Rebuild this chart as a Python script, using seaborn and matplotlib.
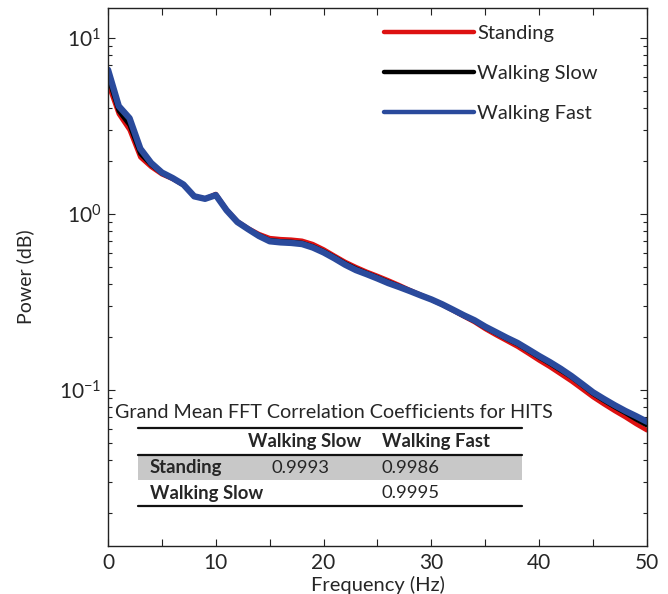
import matplotlib
matplotlib.use("Agg")
import matplotlib.pyplot as plt
import matplotlib.ticker as mticker
from matplotlib.lines import Line2D
from matplotlib.patches import Rectangle
import seaborn as sns
import pandas as pd

freq = list(range(0, 51))

standing = [5.5, 3.7, 3.0, 2.1, 1.85, 1.68, 1.58, 1.46, 1.26, 1.22, 1.30, 1.06, 0.91, 0.83, 0.77,
            0.73, 0.72, 0.715, 0.705, 0.675, 0.63, 0.58, 0.535, 0.50, 0.47, 0.445, 0.42, 0.395, 0.37,
            0.348, 0.327, 0.305, 0.283, 0.262, 0.243, 0.222, 0.205, 0.19, 0.176, 0.161, 0.147,
            0.135, 0.123, 0.112, 0.101, 0.091, 0.083, 0.076, 0.070, 0.064, 0.059]
walking_slow = [6.0, 3.85, 3.2, 2.2, 1.9, 1.7, 1.59, 1.46, 1.26, 1.22, 1.29, 1.05, 0.90, 0.82, 0.76,
                0.71, 0.70, 0.695, 0.685, 0.655, 0.615, 0.57, 0.525, 0.49, 0.462, 0.437, 0.412,
                0.39, 0.367, 0.346, 0.326, 0.305, 0.284, 0.264, 0.246, 0.226, 0.21, 0.195, 0.182,
                0.167, 0.153, 0.141, 0.129, 0.118, 0.106, 0.095, 0.087, 0.08, 0.074, 0.068, 0.063]
walking_fast = [6.6, 4.1, 3.5, 2.35, 1.95, 1.72, 1.6, 1.47, 1.26, 1.22, 1.28, 1.05, 0.90, 0.82, 0.75,
                0.70, 0.69, 0.685, 0.675, 0.645, 0.605, 0.56, 0.515, 0.48, 0.455, 0.43, 0.405,
                0.385, 0.365, 0.345, 0.327, 0.307, 0.286, 0.266, 0.249, 0.229, 0.213, 0.198, 0.185,
                0.17, 0.156, 0.144, 0.132, 0.12, 0.108, 0.097, 0.089, 0.082, 0.076, 0.071, 0.066]

conditions = ["Standing", "Walking Slow", "Walking Fast"]
colors = ["#dd1111", "#000000", "#2a4a9c"]
widths = [3.2, 3.2, 4.6]

table_title = "Grand Mean FFT Correlation Coefficients for HITS"
table_cols = ["Walking Slow", "Walking Fast"]
table_rows = ["Standing", "Walking Slow"]
table_vals = [["0.9993", "0.9986"], ["", "0.9995"]]

df = pd.DataFrame({
    "freq": freq * 3,
    "power": standing + walking_slow + walking_fast,
    "cond": [c for c in conditions for _ in freq],
})

sns.set_theme(style="ticks")
plt.rcParams["font.family"] = ["Lato", "DejaVu Sans"]
plt.rcParams["mathtext.fontset"] = "custom"
plt.rcParams["mathtext.rm"] = "Lato"
plt.rcParams["mathtext.it"] = "Lato"

W, H = 668, 594
fig = plt.figure(figsize=(W / 100, H / 100), dpi=100)
ax = fig.add_axes([108 / W, 1 - 546 / H, (647 - 108) / W, (546 - 8) / H])

for cond, col, lw in zip(conditions, colors, widths):
    sns.lineplot(data=df[df["cond"] == cond], x="freq", y="power", color=col,
                 linewidth=lw, ax=ax, label=cond, legend=False)

ax.set_yscale("log")
ax.set_xlim(0, 50)
ax.set_ylim(0.013, 14.8)
ax.xaxis.set_major_locator(mticker.MultipleLocator(10))
ax.xaxis.set_minor_locator(mticker.MultipleLocator(5))
ax.yaxis.set_major_locator(mticker.LogLocator(base=10, numticks=10))
ax.yaxis.set_minor_locator(mticker.LogLocator(base=10, subs=range(2, 10), numticks=20))
ax.yaxis.set_minor_formatter(mticker.NullFormatter())
ax.tick_params(which="both", direction="in", top=True, right=True, width=0.8, color="#222222")
ax.tick_params(which="major", length=5, labelsize=15, pad=5)
ax.tick_params(which="minor", length=3)
ax.tick_params(axis="x", which="minor", length=5)
for s in ax.spines.values():
    s.set_linewidth(1.0)
    s.set_color("#222222")

ax.set_xlabel("Frequency (Hz)", fontsize=14.5, labelpad=2)
ax.set_ylabel("Power (dB)", fontsize=14, labelpad=18)

handles = [Line2D([], [], color=c, linewidth=3.2) for c in colors]
ax.legend(handles, conditions, loc="upper left", bbox_to_anchor=(0.478, 1.003), frameon=False,
          fontsize=14.5, handlelength=4.5, handletextpad=0.15, labelspacing=1.15)


# inset table, laid out in figure pixels
def fx(x):
    return x / W


def fy(y):
    return 1 - y / H


fig.add_artist(Rectangle((fx(138), fy(480)), fx(522) - fx(138), fy(455) - fy(480),
                         transform=fig.transFigure, facecolor="#c8c8c8", edgecolor="none"))
for yl in (428, 455, 506):
    fig.add_artist(Line2D([fx(138), fx(522)], [fy(yl), fy(yl)], transform=fig.transFigure,
                          color="#111111", linewidth=1.6))

fig.text(fx(115), fy(412), table_title, fontsize=14.2, va="center", ha="left")
col_x = [248, 382]
for cx, name in zip(col_x, table_cols):
    fig.text(fx(cx), fy(442), name, fontsize=13.3, fontweight="bold", va="center", ha="left")
row_y = [468, 493]
for ry, name, vals in zip(row_y, table_rows, table_vals):
    fig.text(fx(150), fy(ry), name, fontsize=13.3, fontweight="bold", va="center", ha="left")
    fig.text(fx(301), fy(ry), vals[0], fontsize=13.3, va="center", ha="center")
    fig.text(fx(382), fy(ry), vals[1], fontsize=13.3, va="center", ha="left")

fig.savefig("out.png", dpi=100, facecolor="white")
